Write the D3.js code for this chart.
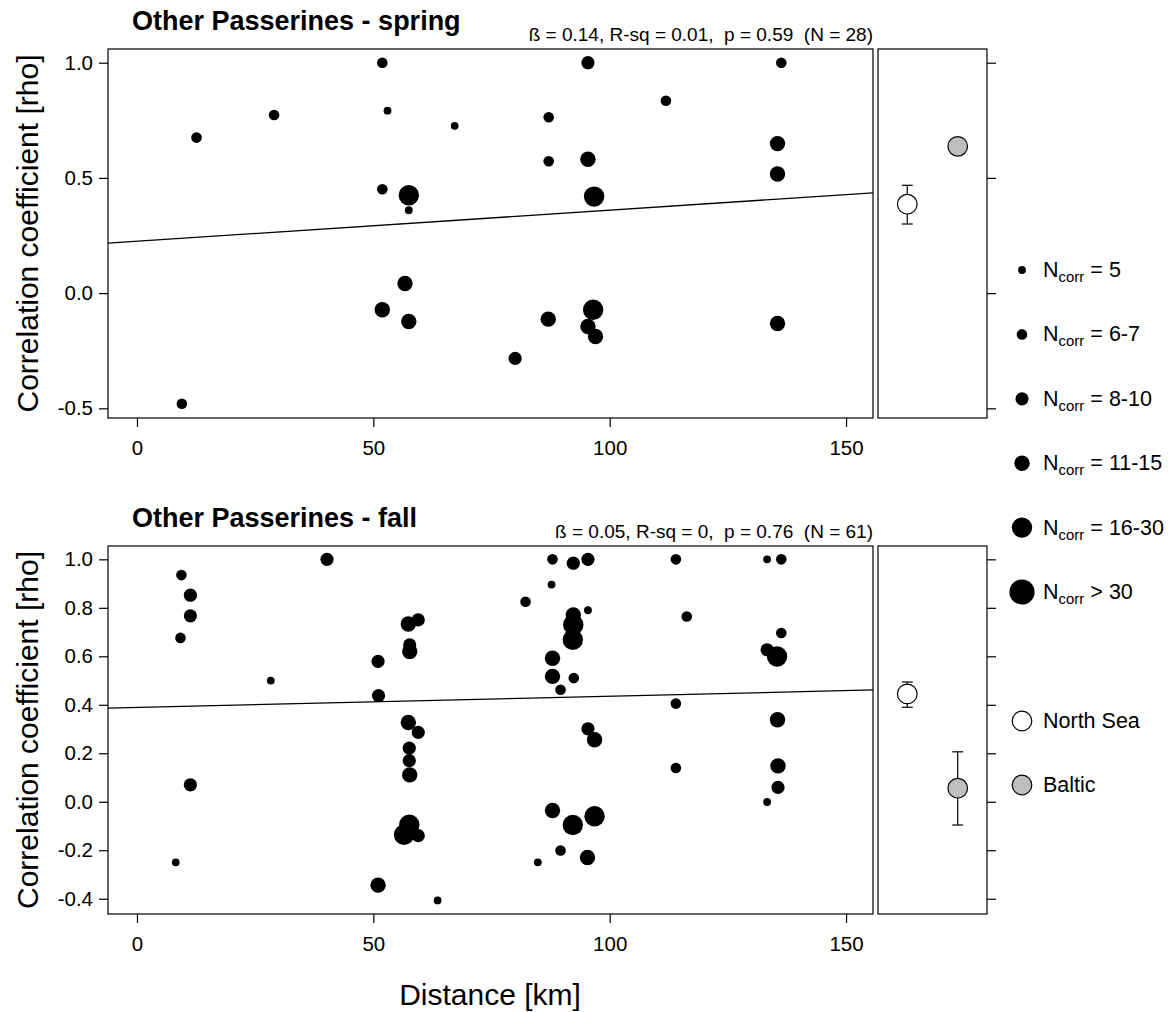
<!DOCTYPE html>
<html>
<head>
<meta charset="utf-8">
<script src="https://cdn.jsdelivr.net/npm/d3@7"></script>
<style>
  html, body { margin: 0; padding: 0; background: #fff; }
  svg text { font-family: "Liberation Sans", Arial, sans-serif; fill: #000; }
</style>
</head>
<body>
<script>
// ---- Data: correlation of passerine migration vs. distance between sites ----
const sizeClasses = ["5", "6-7", "8-10", "11-15", "16-30", ">30"];

// Spring: distance [km], rho, N_corr size class index
const springDist  = [51.9, 53.0, 29.0, 12.6, 67.2, 51.9, 57.5, 57.5, 56.7, 51.9, 57.5, 9.5,
                     95.4, 136.3, 111.9, 87.1, 87.1, 95.4, 96.7, 135.5, 135.5, 96.5, 87.0, 95.4, 97.0, 80.0, 135.5];
const springRho   = [1.0, 0.792, 0.773, 0.675, 0.726, 0.451, 0.425, 0.360, 0.042, -0.072, -0.123, -0.480,
                     1.0, 1.0, 0.835, 0.763, 0.572, 0.581, 0.419, 0.649, 0.517, -0.072, -0.113, -0.145, -0.188, -0.283, -0.132];
const springClass = [1, 0, 1, 1, 0, 1, 4, 0, 3, 3, 3, 1,
                     2, 1, 1, 1, 1, 3, 4, 3, 3, 4, 3, 3, 3, 2, 3];

// Fall
const fallDist  = [9.4, 11.3, 11.3, 9.2, 40.2, 28.3, 51.0, 51.1, 57.4, 59.5, 57.7, 57.7, 57.4, 59.5,
                   57.6, 57.6, 57.7, 57.6, 56.5, 59.5, 11.3, 8.2, 51.0, 63.6,
                   87.9, 92.3, 95.4, 114.0, 133.3, 136.3, 87.7, 82.2, 95.4, 92.3, 92.3, 92.2, 116.3,
                   136.3, 133.3, 135.4, 87.9, 87.9, 92.4, 89.6, 114.0, 135.5, 95.4, 96.8, 114.0,
                   135.6, 135.6, 133.3, 87.9, 92.2, 96.8, 89.6, 95.3, 84.8];
const fallRho   = [0.935, 0.852, 0.767, 0.676, 1.0, 0.50, 0.579, 0.438, 0.733, 0.750, 0.647, 0.620, 0.327, 0.286,
                   0.221, 0.170, 0.111, -0.095, -0.136, -0.140, 0.070, -0.250, -0.344, -0.407,
                   1.0, 0.984, 1.0, 1.0, 1.0, 1.0, 0.896, 0.825, 0.790, 0.771, 0.730, 0.668, 0.764,
                   0.696, 0.627, 0.599, 0.592, 0.517, 0.510, 0.462, 0.405, 0.338, 0.301, 0.256, 0.139,
                   0.148, 0.059, -0.001, -0.036, -0.096, -0.060, -0.201, -0.230, -0.250];
const fallClass = [1, 2, 2, 1, 2, 0, 2, 2, 3, 2, 2, 3, 3, 2,
                   2, 2, 3, 4, 4, 2, 2, 0, 3, 0,
                   1, 2, 2, 1, 0, 1, 0, 1, 0, 3, 4, 4, 1,
                   1, 2, 4, 3, 3, 1, 1, 1, 3, 2, 3, 1,
                   3, 2, 0, 3, 4, 4, 1, 3, 0];

// Linear fits (rho = intercept + slope * distance)
const fitIntercept = [0.225, 0.389];
const fitSlope     = [0.00135, 0.000464];

const panelTitles = ["Other Passerines - spring", "Other Passerines - fall"];
const statLabels  = ["ß = 0.14, R-sq = 0.01,  p = 0.59  (N = 28)",
                     "ß = 0.05, R-sq = 0,  p = 0.76  (N = 61)"];

// Mean rho per sea region with error bars
const regions    = ["North Sea", "Baltic"];
const regionFill = ["#ffffff", "#bebebe"];
const springMean = [0.386, 0.637];
const springLo   = [0.300, null];
const springHi   = [0.468, null];
const fallMean   = [0.445, 0.056];
const fallLo     = [0.390, -0.096];
const fallHi     = [0.494, 0.206];

const xTicks       = [0, 50, 100, 150];
const springYTicks = [-0.5, 0.0, 0.5, 1.0];
const fallYTicks   = [-0.4, -0.2, 0.0, 0.2, 0.4, 0.6, 0.8, 1.0];

// ---- Layout ----
const W = 1174, H = 1012;
const svg = d3.select("body").append("svg").attr("width", W).attr("height", H);
svg.append("rect").attr("width", W).attr("height", H).attr("fill", "#fff");

const radius = d3.scaleOrdinal().domain(d3.range(6)).range([3.9, 5.3, 6.6, 7.7, 10.2, 12.6]);

const x = d3.scaleLinear().domain([-6.13, 155.7]).range([108, 873]);
const xr = d3.scaleLinear().domain([0.42, 2.58]).range([878, 987]);

const panels = [
  { dist: springDist, rho: springRho, cls: springClass, top: 49, bottom: 418, domain: [-0.542, 1.0595],
    ticks: springYTicks, fmt: d3.format(".1f"), mean: springMean, lo: springLo, hi: springHi },
  { dist: fallDist, rho: fallRho, cls: fallClass, top: 546, bottom: 914, domain: [-0.463, 1.055],
    ticks: fallYTicks, fmt: d3.format(".1f"), mean: fallMean, lo: fallLo, hi: fallHi }
];

const tickLen = 9;

panels.forEach((p, i) => {
  const y = d3.scaleLinear().domain(p.domain).range([p.bottom, p.top]);
  const g = svg.append("g");

  const clipId = "clip" + i;
  svg.append("clipPath").attr("id", clipId).append("rect")
    .attr("x", x.range()[0]).attr("y", p.top)
    .attr("width", x.range()[1] - x.range()[0]).attr("height", p.bottom - p.top);

  // regression line
  const [d0, d1] = x.domain();
  g.append("line")
    .attr("clip-path", `url(#${clipId})`)
    .attr("x1", x(d0)).attr("x2", x(d1))
    .attr("y1", y(fitIntercept[i] + fitSlope[i] * d0))
    .attr("y2", y(fitIntercept[i] + fitSlope[i] * d1))
    .attr("stroke", "#000").attr("stroke-width", 1.3);

  // points
  g.append("g").selectAll("circle")
    .data(d3.range(p.dist.length))
    .join("circle")
    .attr("cx", k => x(p.dist[k]))
    .attr("cy", k => y(p.rho[k]))
    .attr("r", k => radius(p.cls[k]))
    .attr("fill", "#000");

  // main frame
  g.append("rect")
    .attr("x", x.range()[0]).attr("y", p.top)
    .attr("width", x.range()[1] - x.range()[0]).attr("height", p.bottom - p.top)
    .attr("fill", "none").attr("stroke", "#000").attr("stroke-width", 1.2);

  // left y axis
  const yAxis = d3.axisLeft(y).tickValues(p.ticks).tickFormat(p.fmt).tickSize(tickLen).tickPadding(6);
  const ya = g.append("g").attr("transform", `translate(${x.range()[0]},0)`).call(yAxis);
  ya.select(".domain").remove();
  ya.selectAll("line").attr("stroke", "#000").attr("stroke-width", 1.2);
  ya.selectAll("text").attr("font-size", 20.5).attr("font-family", "Liberation Sans, Arial, sans-serif")
    .text(d => d < 0 ? "-" + p.fmt(-d) : p.fmt(d));

  // bottom x axis
  const xAxis = d3.axisBottom(x).tickValues(xTicks).tickFormat(d3.format("d")).tickSize(tickLen).tickPadding(13);
  const xa = g.append("g").attr("transform", `translate(0,${p.bottom})`).call(xAxis);
  xa.select(".domain").remove();
  xa.selectAll("line").attr("stroke", "#000").attr("stroke-width", 1.2);
  xa.selectAll("text").attr("font-size", 20.5).attr("font-family", "Liberation Sans, Arial, sans-serif");

  // y axis title
  svg.append("text")
    .attr("transform", `translate(38,${(p.top + p.bottom) / 2}) rotate(-90)`)
    .attr("text-anchor", "middle")
    .attr("font-size", 30)
    .text("Correlation coefficient [rho]");

  // panel title and fit statistics
  svg.append("text").attr("x", 132).attr("y", p.top - 19)
    .attr("font-size", 27).attr("font-weight", "bold")
    .text(panelTitles[i]);
  svg.append("text").attr("x", 873).attr("y", p.top - 8)
    .attr("text-anchor", "end").attr("font-size", 19)
    .style("white-space", "pre")
    .text(statLabels[i]);

  // side panel: regional means
  const sg = svg.append("g");
  sg.append("rect")
    .attr("x", xr.range()[0]).attr("y", p.top)
    .attr("width", xr.range()[1] - xr.range()[0]).attr("height", p.bottom - p.top)
    .attr("fill", "none").attr("stroke", "#000").attr("stroke-width", 1.2);
  const ra = sg.append("g").attr("transform", `translate(${xr.range()[1]},0)`)
    .call(d3.axisRight(y).tickValues(p.ticks).tickSize(tickLen).tickFormat(""));
  ra.select(".domain").remove();
  ra.selectAll("line").attr("stroke", "#000").attr("stroke-width", 1.2);

  regions.forEach((r, k) => {
    const cx = xr(k + 1);
    if (p.lo[k] != null) {
      sg.append("line").attr("x1", cx).attr("x2", cx)
        .attr("y1", y(p.lo[k])).attr("y2", y(p.hi[k]))
        .attr("stroke", "#000").attr("stroke-width", 1.2);
      [p.lo[k], p.hi[k]].forEach(v => {
        sg.append("line").attr("x1", cx - 5.5).attr("x2", cx + 5.5)
          .attr("y1", y(v)).attr("y2", y(v))
          .attr("stroke", "#000").attr("stroke-width", 1.2);
      });
    }
    sg.append("circle").attr("cx", cx).attr("cy", y(p.mean[k])).attr("r", 9.8)
      .attr("fill", regionFill[k]).attr("stroke", "#000").attr("stroke-width", 1.2);
  });
});

// shared x axis title
svg.append("text").attr("x", 490).attr("y", 1005)
  .attr("text-anchor", "middle").attr("font-size", 30)
  .text("Distance [km]");

// ---- Legend: point sizes ----
const legY = d3.scaleLinear().domain([0, 5]).range([270, 592]);
const leg = svg.append("g");
sizeClasses.forEach((c, k) => {
  const cy = legY(k);
  leg.append("circle").attr("cx", 1022).attr("cy", cy).attr("r", radius(k)).attr("fill", "#000");
  const t = leg.append("text").attr("x", 1043).attr("y", cy + 7).attr("font-size", 21.5);
  t.append("tspan").text("N");
  t.append("tspan").attr("font-size", 15).attr("dy", 5).text("corr");
  const rest = c.startsWith(">") ? " > " + c.slice(1) : " = " + c;
  t.append("tspan").attr("dy", -5).style("white-space", "pre").text(rest);
});

// ---- Legend: regions ----
regions.forEach((r, k) => {
  const cy = 721 + k * 64;
  leg.append("circle").attr("cx", 1022).attr("cy", cy).attr("r", 9.8)
    .attr("fill", regionFill[k]).attr("stroke", "#000").attr("stroke-width", 1.2);
  leg.append("text").attr("x", 1043).attr("y", cy + 7).attr("font-size", 21.5).text(r);
});
</script>
</body>
</html>
